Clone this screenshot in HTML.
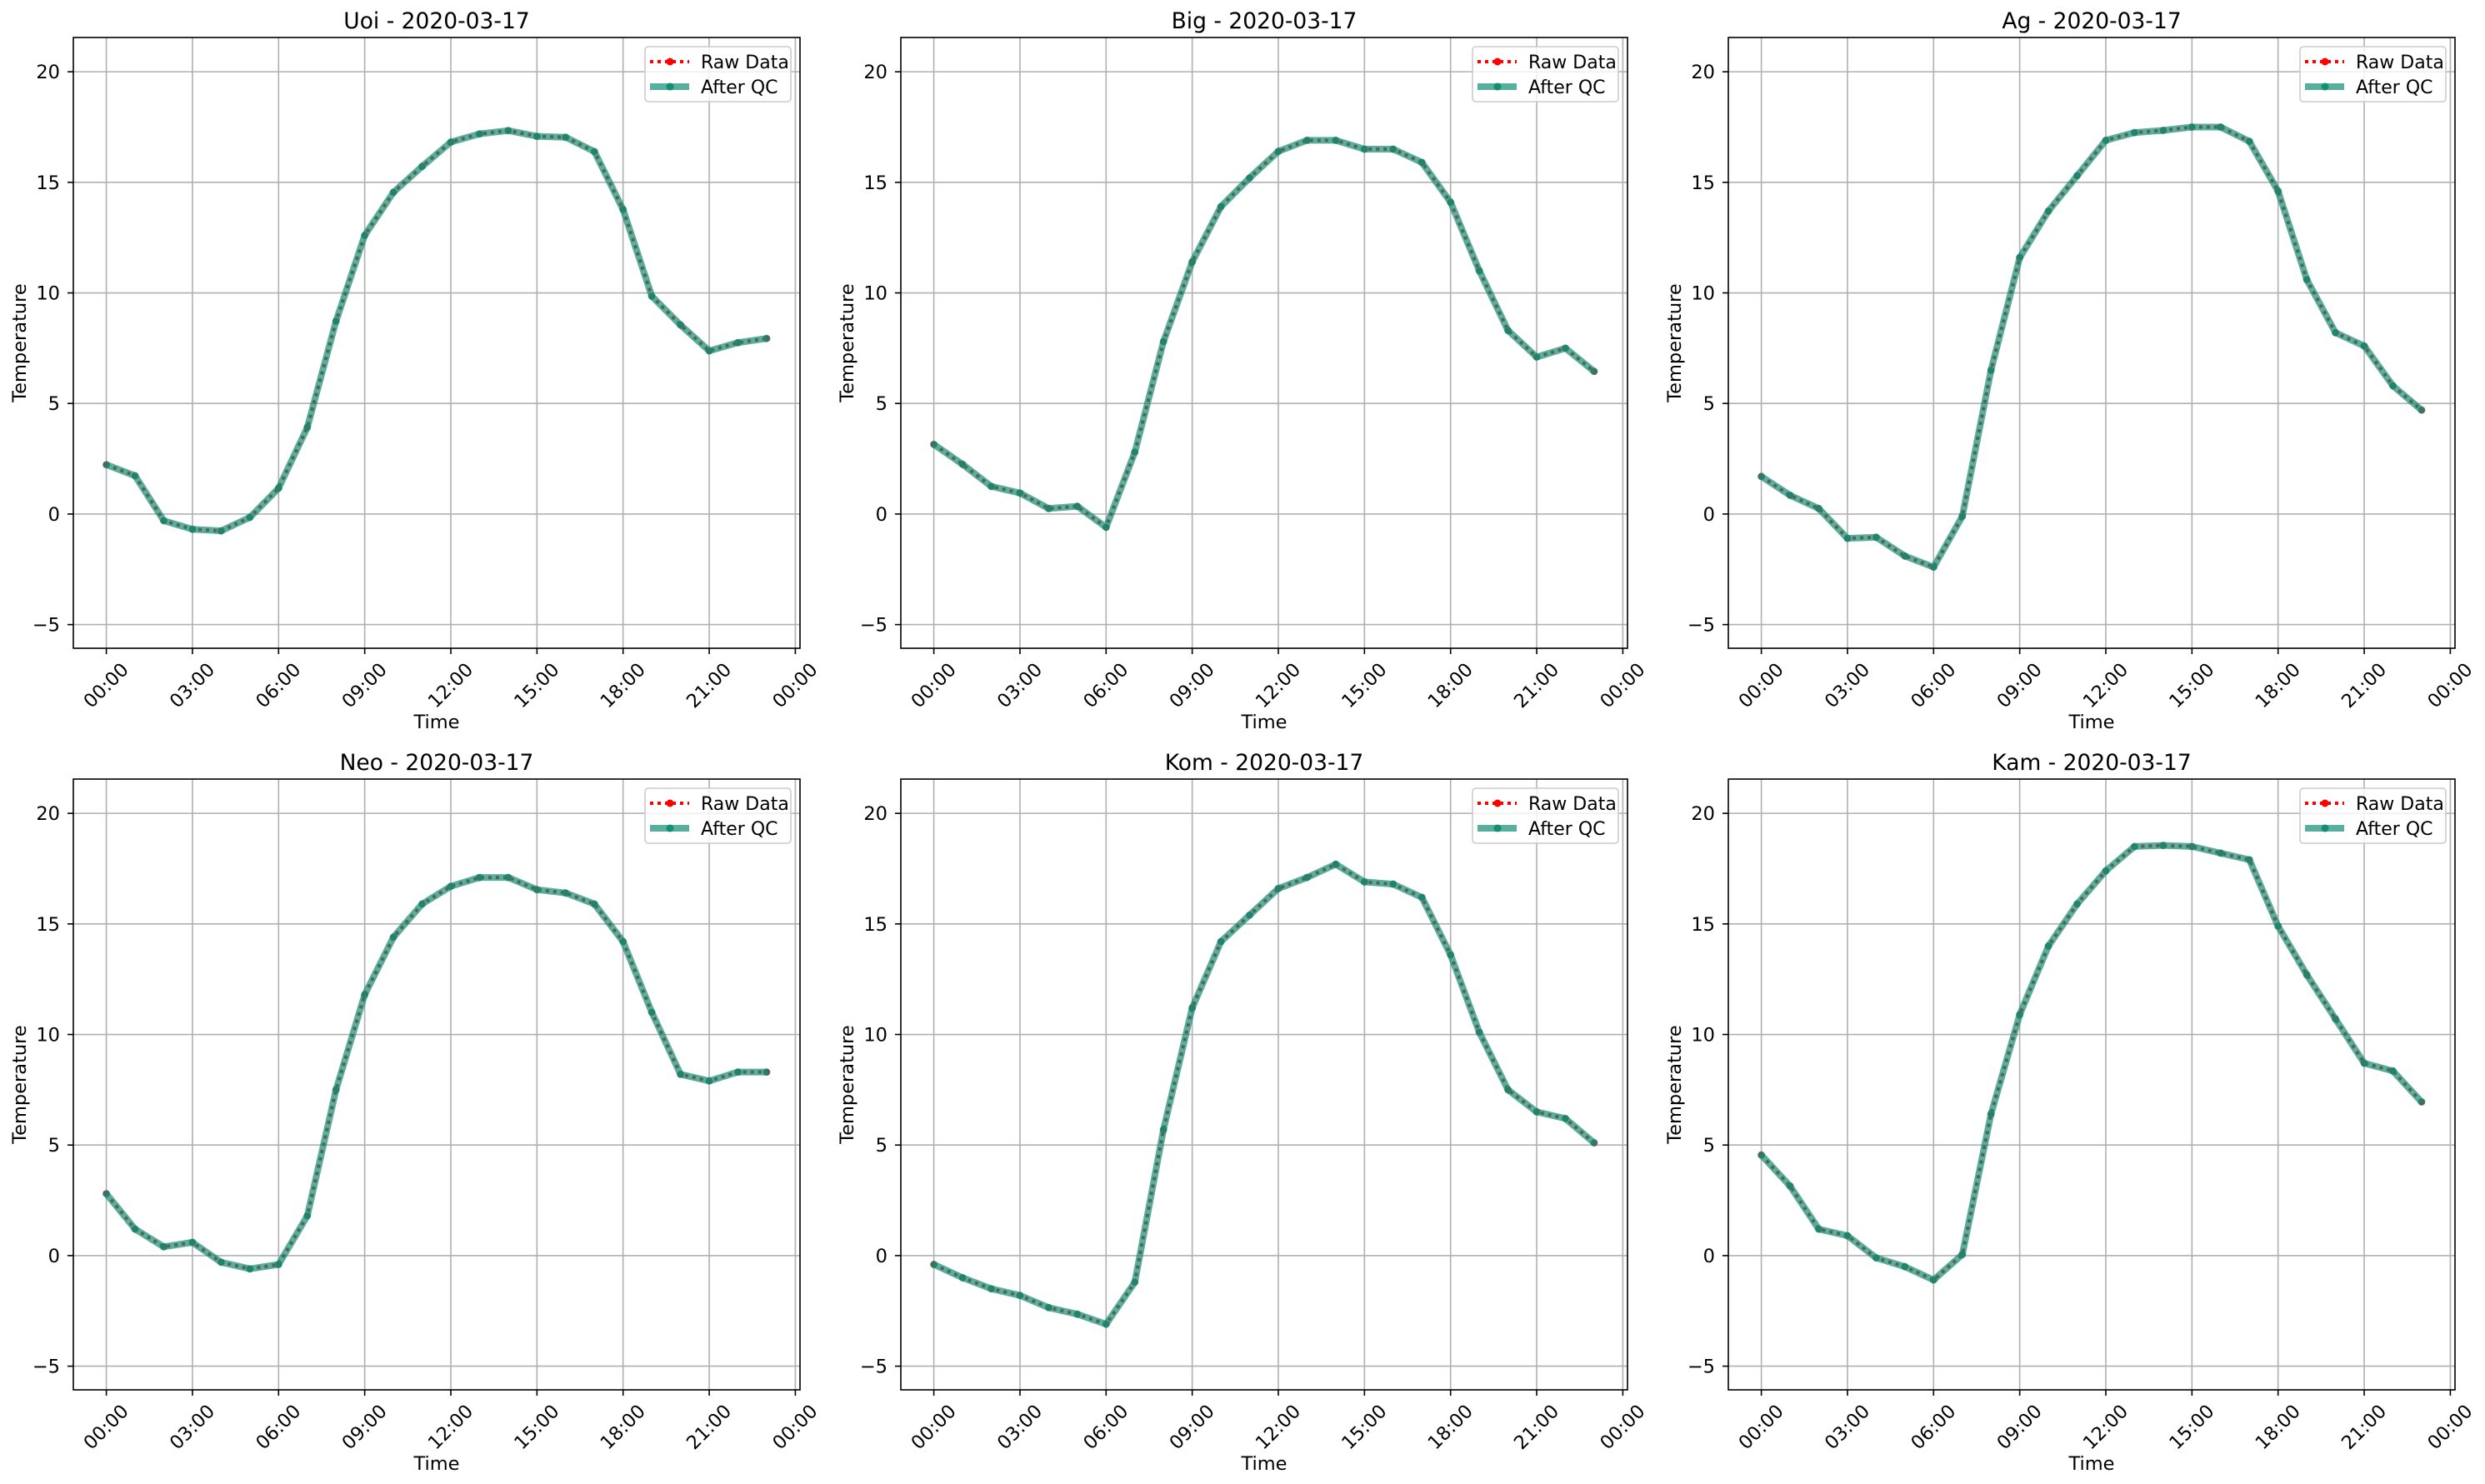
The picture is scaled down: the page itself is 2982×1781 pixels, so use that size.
<!DOCTYPE html>
<html><head><meta charset="utf-8">
<style>
html,body{margin:0;padding:0;background:#fff;}
svg{display:block;}
text{font-family:"DejaVu Sans","Liberation Sans",sans-serif;fill:#000;}
</style></head>
<body>
<svg id="s" xmlns="http://www.w3.org/2000/svg" width="2982" height="1781" viewBox="0 0 2982 1781"></svg>
<script>
const data = {
"Uoi":[2.23,1.73,-0.3,-0.69,-0.76,-0.15,1.17,3.92,8.72,12.6,14.55,15.72,16.82,17.19,17.34,17.08,17.04,16.39,13.77,9.85,8.55,7.38,7.75,7.94],
"Big":[3.15,2.25,1.25,0.95,0.25,0.35,-0.6,2.8,7.8,11.4,13.9,15.2,16.4,16.9,16.9,16.5,16.5,15.9,14.1,11.0,8.3,7.1,7.5,6.45],
"Ag":[1.7,0.85,0.25,-1.1,-1.05,-1.9,-2.4,-0.1,6.5,11.6,13.7,15.3,16.9,17.25,17.35,17.5,17.5,16.85,14.6,10.6,8.2,7.6,5.8,4.7],
"Neo":[2.8,1.2,0.4,0.6,-0.3,-0.6,-0.4,1.8,7.5,11.8,14.4,15.9,16.7,17.1,17.1,16.55,16.4,15.9,14.2,11.0,8.2,7.9,8.3,8.3],
"Kom":[-0.4,-1.0,-1.5,-1.8,-2.35,-2.65,-3.1,-1.2,5.7,11.2,14.2,15.4,16.6,17.1,17.7,16.9,16.8,16.2,13.6,10.1,7.5,6.5,6.2,5.1],
"Kam":[4.55,3.15,1.2,0.9,-0.1,-0.5,-1.1,0.05,6.4,10.9,14.0,15.9,17.4,18.5,18.55,18.5,18.2,17.9,14.9,12.7,10.7,8.7,8.35,6.95]
};
const names=["Uoi","Big","Ag","Neo","Kom","Kam"];
const X0=[88,1081,2074], Y0=[45,935], W=872, H=733;
const G="#138d75";
let o="";
names.forEach((n,i)=>{
  const x0=X0[i%3], y0=Y0[Math.floor(i/3)], r=x0+W, b=y0+H;
  const fy=v=>b-(v+6.07)*H/27.62;
  const fx=h=>x0+39.6+h*34.45;
  for(let h=0;h<=24;h+=3){const x=fx(h);o+=`<line x1="${x}" y1="${y0}" x2="${x}" y2="${b}" stroke="#b0b0b0" stroke-width="1.6"/>`;}
  for(let v=-5;v<=20;v+=5){const y=fy(v);o+=`<line x1="${x0}" y1="${y}" x2="${r}" y2="${y}" stroke="#b0b0b0" stroke-width="1.6"/>`;}
  const pts=data[n].map((v,h)=>fx(h).toFixed(1)+","+fy(v).toFixed(1)).join(" ");
  o+=`<polyline points="${pts}" fill="none" stroke="#ff0000" stroke-width="4" stroke-dasharray="4 5"/>`;
  data[n].forEach((v,h)=>{o+=`<circle cx="${fx(h)}" cy="${fy(v)}" r="4" fill="#ff0000"/>`;});
  o+=`<polyline points="${pts}" fill="none" stroke="${G}" stroke-opacity="0.7" stroke-width="8" stroke-linejoin="round"/>`;
  data[n].forEach((v,h)=>{o+=`<circle cx="${fx(h)}" cy="${fy(v)}" r="4.5" fill="${G}" fill-opacity="0.7"/>`;});
  o+=`<rect x="${x0}" y="${y0}" width="${W}" height="${H}" fill="none" stroke="#000" stroke-width="1.6"/>`;
  for(let v=-5;v<=20;v+=5){const y=fy(v);
    o+=`<line x1="${x0-7}" y1="${y}" x2="${x0}" y2="${y}" stroke="#000" stroke-width="1.6"/>`;
    o+=`<text x="${x0-16}" y="${y+8}" font-size="22.5" text-anchor="end">${v<0?"\u2212"+(-v):v}</text>`;}
  const labs=["00:00","03:00","06:00","09:00","12:00","15:00","18:00","21:00","00:00"];
  labs.forEach((l,k)=>{const x=fx(k*3);
    o+=`<line x1="${x}" y1="${b}" x2="${x}" y2="${b+7}" stroke="#000" stroke-width="1.6"/>`;
    o+=`<text x="${x}" y="${b+45}" font-size="22.5" text-anchor="middle" dominant-baseline="central" transform="rotate(-45 ${x} ${b+45})">${l}</text>`;});
  o+=`<text x="${(x0+r)/2}" y="${b+96}" font-size="22.5" text-anchor="middle">Time</text>`;
  o+=`<text x="${x0-57}" y="${(y0+b)/2}" font-size="22.5" text-anchor="middle" transform="rotate(-90 ${x0-57} ${(y0+b)/2})">Temperature</text>`;
  o+=`<text x="${(x0+r)/2}" y="${y0-11}" font-size="26.5" text-anchor="middle">${n} - 2020-03-17</text>`;
  const lx=r-186, ly=y0+11;
  o+=`<rect x="${lx}" y="${ly}" width="175" height="66" rx="4" fill="#fff" fill-opacity="0.8" stroke="#ccc" stroke-width="1.6"/>`;
  o+=`<line x1="${lx+6}" y1="${ly+18}" x2="${lx+53}" y2="${ly+18}" stroke="#ff0000" stroke-width="4" stroke-dasharray="4 5"/>`;
  o+=`<circle cx="${lx+30}" cy="${ly+18}" r="4.5" fill="#ff0000"/>`;
  o+=`<text x="${lx+67}" y="${ly+26}" font-size="22">Raw Data</text>`;
  o+=`<line x1="${lx+6}" y1="${ly+48}" x2="${lx+53}" y2="${ly+48}" stroke="${G}" stroke-opacity="0.7" stroke-width="8"/>`;
  o+=`<circle cx="${lx+30}" cy="${ly+48}" r="4.5" fill="${G}"/>`;
  o+=`<text x="${lx+67}" y="${ly+56}" font-size="22">After QC</text>`;
});
document.getElementById("s").innerHTML=o;
</script>
</body></html>
